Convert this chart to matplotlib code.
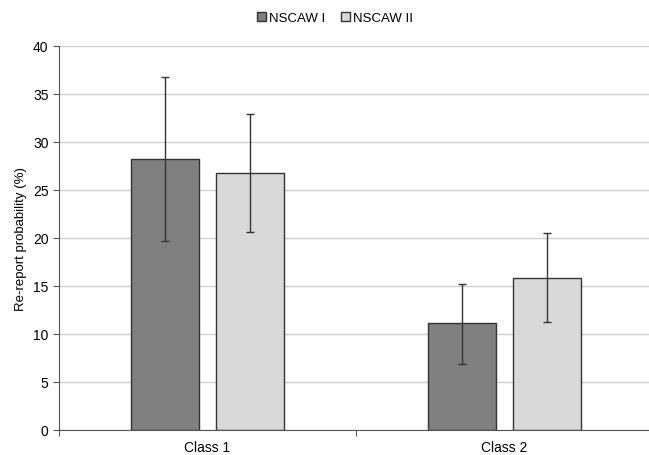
import numpy as np
import matplotlib.pyplot as plt

plt.rcParams['font.family'] = ['Liberation Sans', 'DejaVu Sans']

categories = ["Class 1", "Class 2"]
series_names = ["NSCAW I", "NSCAW II"]
values_1 = [28.2, 11.1]
values_2 = [26.8, 15.8]
err_hi_1 = [36.8, 15.2]
err_lo_1 = [19.7, 6.9]
err_hi_2 = [32.9, 20.5]
err_lo_2 = [20.6, 11.2]

fig = plt.figure(figsize=(6.49, 4.56), dpi=100)
ax = fig.add_axes([59 / 649, 25 / 456, 594 / 649, 384 / 456])

x = np.arange(len(categories))
width = 0.226
offset = 0.143
colors = ["#808080", "#d9d9d9"]

for vals, hi, lo, off, col, name in [
    (values_1, err_hi_1, err_lo_1, -offset, colors[0], series_names[0]),
    (values_2, err_hi_2, err_lo_2, offset, colors[1], series_names[1]),
]:
    vals = np.array(vals)
    yerr = [vals - np.array(lo), np.array(hi) - vals]
    ax.bar(x + off, vals, width, color=col, edgecolor="#333333", linewidth=1.0,
           label=name, zorder=2)
    ax.errorbar(x + off, vals, yerr=yerr, fmt="none", ecolor="#333333",
                elinewidth=1.0, capsize=3, capthick=1.0, zorder=3)

ax.set_xlim(-0.5, 1.5)
ax.set_ylim(0, 40)
ax.set_yticks(np.arange(0, 41, 5))
ax.yaxis.grid(True, color="#d0d0d0", linewidth=1.0, zorder=0)
ax.set_axisbelow(True)

ax.set_xticks([-0.5, 0.5, 1.5])
ax.set_xticklabels([])
ax.set_xticks(x, minor=True)
ax.set_xticklabels(categories, minor=True)
ax.tick_params(axis="x", which="minor", length=0, pad=7, labelsize=10)
ax.tick_params(axis="x", which="major", length=4, color="#555555")
ax.tick_params(axis="y", length=4, color="#555555", labelsize=10)

for side in ["top", "right"]:
    ax.spines[side].set_visible(False)
for side in ["left", "bottom"]:
    ax.spines[side].set_color("#555555")

ax.set_ylabel("Re-report probability (%)", fontsize=9.5)

ax.legend(loc="upper center", bbox_to_anchor=(0.464, 1.12), ncol=2,
          frameon=False, fontsize=9.5, handlelength=0.7, handleheight=0.7,
          handletextpad=0.2, columnspacing=1.2)

plt.savefig("out.png", dpi=100)
plt.close()
